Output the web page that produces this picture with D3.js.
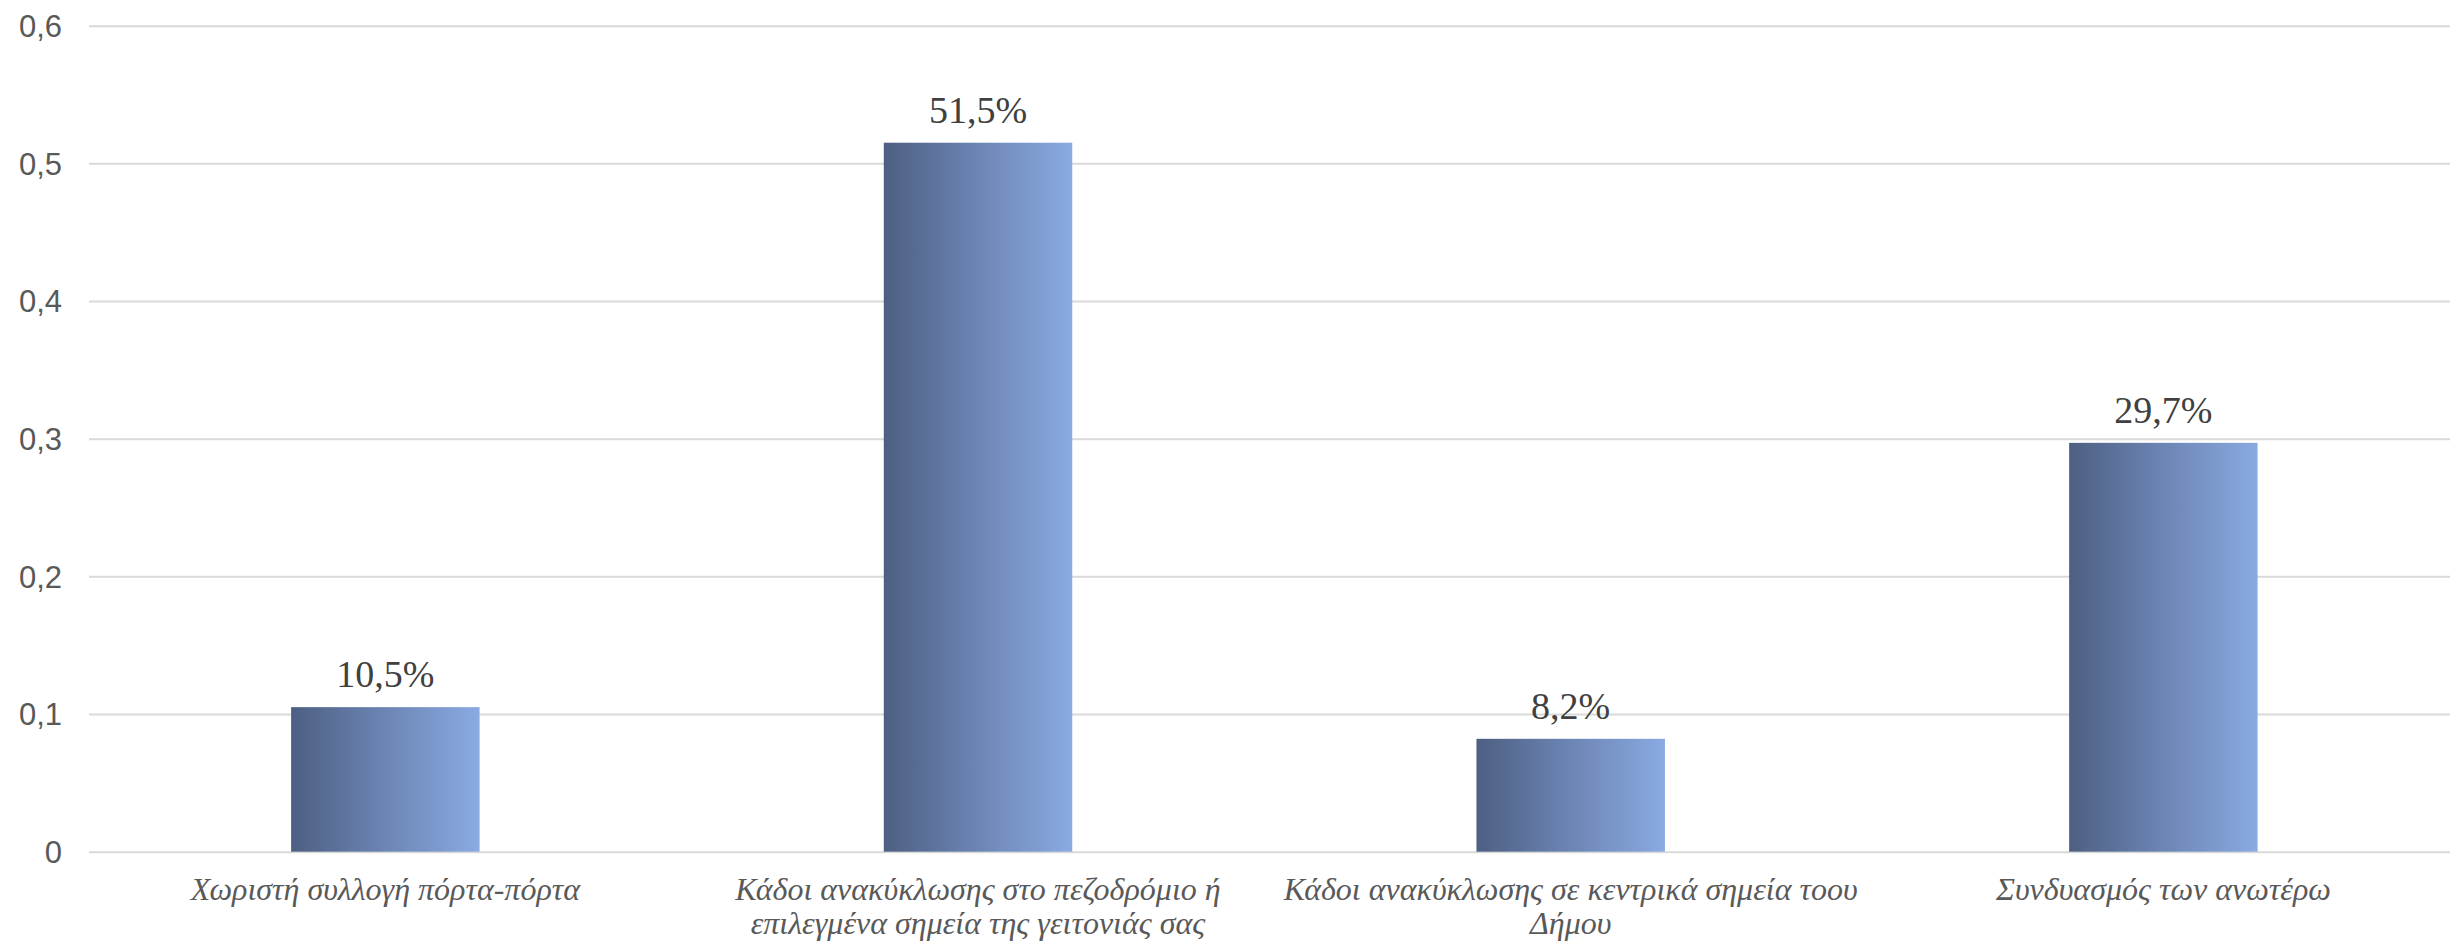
<!DOCTYPE html>
<html>
<head>
<meta charset="utf-8">
<script src="https://cdn.jsdelivr.net/npm/d3@7"></script>
<style>
  html, body { margin: 0; padding: 0; background: #fff; }
  svg { display: block; }
</style>
</head>
<body>
<svg id="chart" width="2450" height="944"></svg>
<script>
const categories = [
  "Χωριστή συλλογή πόρτα-πόρτα",
  "Κάδοι ανακύκλωσης στο πεζοδρόμιο ή\nεπιλεγμένα σημεία της γειτονιάς σας",
  "Κάδοι ανακύκλωσης σε κεντρικά σημεία τοου\nΔήμου",
  "Συνδυασμός των ανωτέρω"
];
const values = [0.105, 0.515, 0.082, 0.297];
const yTicks = [0, 0.1, 0.2, 0.3, 0.4, 0.5, 0.6];

const W = 2450, H = 944;
const svg = d3.select("#chart");

const locale = d3.formatLocale({decimal: ",", thousands: ".", grouping: [3], currency: ["", "€"]});
const fmtTick = locale.format(".1~f");
const fmtPct = locale.format(".1%");

const y = d3.scaleLinear().domain([0, 0.6]).range([851.7, 25.7]);
const x = d3.scaleBand().domain(categories).range([89, 2459.7])
  .paddingInner(0.682).paddingOuter(0.341);

// gradient
const defs = svg.append("defs");
const grad = defs.append("linearGradient").attr("id", "barGrad")
  .attr("x1", "0%").attr("x2", "100%").attr("y1", "0%").attr("y2", "0%");
grad.append("stop").attr("offset", "0%").attr("stop-color", "#4d5f82");
grad.append("stop").attr("offset", "50%").attr("stop-color", "#6c85b4");
grad.append("stop").attr("offset", "100%").attr("stop-color", "#8aaae2");

// y axis with gridlines
const yAxis = d3.axisLeft(y).tickValues(yTicks).tickFormat(fmtTick)
  .tickSize(-(W - 89)).tickPadding(27);
const gy = svg.append("g").attr("transform", "translate(89,0)").call(yAxis);
gy.select(".domain").remove();
gy.selectAll(".tick line").attr("stroke", "#d9d9d9").attr("stroke-width", 2);
gy.selectAll(".tick text")
  .attr("fill", "#595959")
  .style("font-family", "'Liberation Sans', Arial, sans-serif")
  .style("font-size", "31px")
  .attr("dy", "0.35em");

// bars
svg.append("g").selectAll("rect").data(categories).join("rect")
  .attr("x", d => x(d))
  .attr("width", x.bandwidth())
  .attr("y", (d, i) => y(values[i]))
  .attr("height", (d, i) => y(0) - y(values[i]))
  .attr("fill", "url(#barGrad)");

// data labels
svg.append("g").selectAll("text").data(categories).join("text")
  .attr("x", d => x(d) + x.bandwidth() / 2)
  .attr("y", (d, i) => y(values[i]) - 20)
  .attr("text-anchor", "middle")
  .attr("fill", "#404040")
  .style("font-family", "'Liberation Serif', 'Times New Roman', serif")
  .style("font-size", "38px")
  .text((d, i) => fmtPct(values[i]));

// category labels
const cl = svg.append("g").selectAll("text").data(categories).join("text")
  .attr("x", d => x(d) + x.bandwidth() / 2)
  .attr("y", 900)
  .attr("text-anchor", "middle")
  .attr("fill", "#595959")
  .style("font-family", "'Liberation Serif', 'Times New Roman', serif")
  .style("font-style", "italic")
  .style("font-size", "32px");
cl.each(function(d) {
  const t = d3.select(this);
  d.split("\n").forEach((line, i) => {
    t.append("tspan").attr("x", x(d) + x.bandwidth() / 2)
      .attr("dy", i === 0 ? 0 : 33.5).text(line);
  });
});
</script>
</body>
</html>
